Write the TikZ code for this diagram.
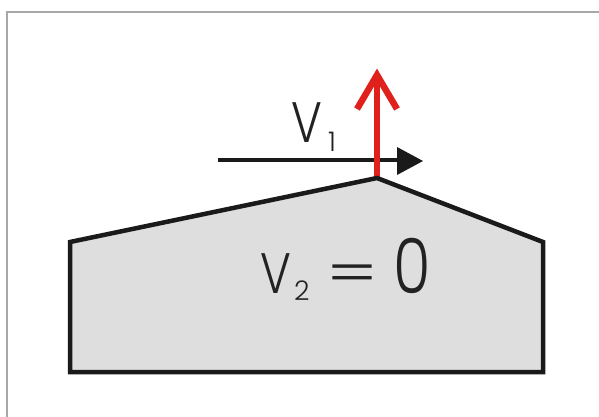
\documentclass[tikz,border=0pt]{standalone}
\usepackage{fontspec}
\setmainfont{Poppins Light}
\definecolor{framegray}{HTML}{A8A8A8}
\definecolor{bodyfill}{HTML}{DEDEDE}
\definecolor{outline}{HTML}{1A1A1A}
\definecolor{arrowred}{HTML}{E0201B}
\definecolor{txt}{HTML}{222222}
\begin{document}
\begin{tikzpicture}[x=1pt,y=-1pt,
  lbl/.style={inner sep=0pt,outer sep=0pt,text=txt},
  bigtxt/.style={lbl,font=\fontsize{57}{60}\selectfont},
  subtxt/.style={lbl,font=\fontsize{27}{30}\selectfont},
  framestroke/.style={draw=framegray,line width=2.5pt},
  body/.style={draw=outline,fill=bodyfill,line width=4.5pt,line join=miter},
  vel/.style={draw=outline,line width=4pt},
  redvel/.style={draw=arrowred,line width=6.5pt,line join=miter}]
\useasboundingbox (0,0) rectangle (599,417);
\fill[white] (0,0) rectangle (599,417);
% frame
\coordinate (fbl) at (7,417);
\coordinate (ftl) at (7,12);
\coordinate (ftr) at (599,12);
\draw[framestroke] (fbl) -- (ftl) -- (ftr);
% coordinates
\coordinate (apex) at (377,178);
\coordinate (tl) at (70,242);
\coordinate (tr) at (543,242);
\coordinate (br) at (543,372);
\coordinate (bl) at (70,372);
\coordinate (v1s) at (218,160);
\coordinate (v1e) at (400,160);
\coordinate (h1) at (397,147);
\coordinate (h2) at (423,161);
\coordinate (h3) at (397,175);
\coordinate (rtop) at (377,75);
\coordinate (rl) at (357,109);
\coordinate (rr) at (397,109);
% black arrow
\draw[vel] (v1s) -- (v1e);
\fill[outline] (h1) -- (h2) -- (h3) -- cycle;
% red arrow
\draw[redvel] (apex) -- (rtop);
\draw[redvel] (rl) -- (rtop) -- (rr);
% body
\draw[body] (tl) -- (apex) -- (tr) -- (br) -- (bl) -- cycle;
% labels
\node[bigtxt,anchor=base west] (V1) at (291,142) {\scalebox{0.82}[1]{V}};
\node[subtxt,anchor=base west] (s1) at (328,151) {1};
\node[bigtxt,anchor=base west] (V2) at (260,293) {\scalebox{0.82}[1]{V}};
\node[subtxt,anchor=base west] (s2) at (294,300) {2};
\node[bigtxt,anchor=base west] (eq) at (326,293) {\scalebox{1.35}[1]{=}};
\node[lbl,anchor=base west,font=\fontsize{76}{80}\selectfont] (zero) at (393,293) {\scalebox{0.8}[1]{0}};
\end{tikzpicture}
\end{document}
